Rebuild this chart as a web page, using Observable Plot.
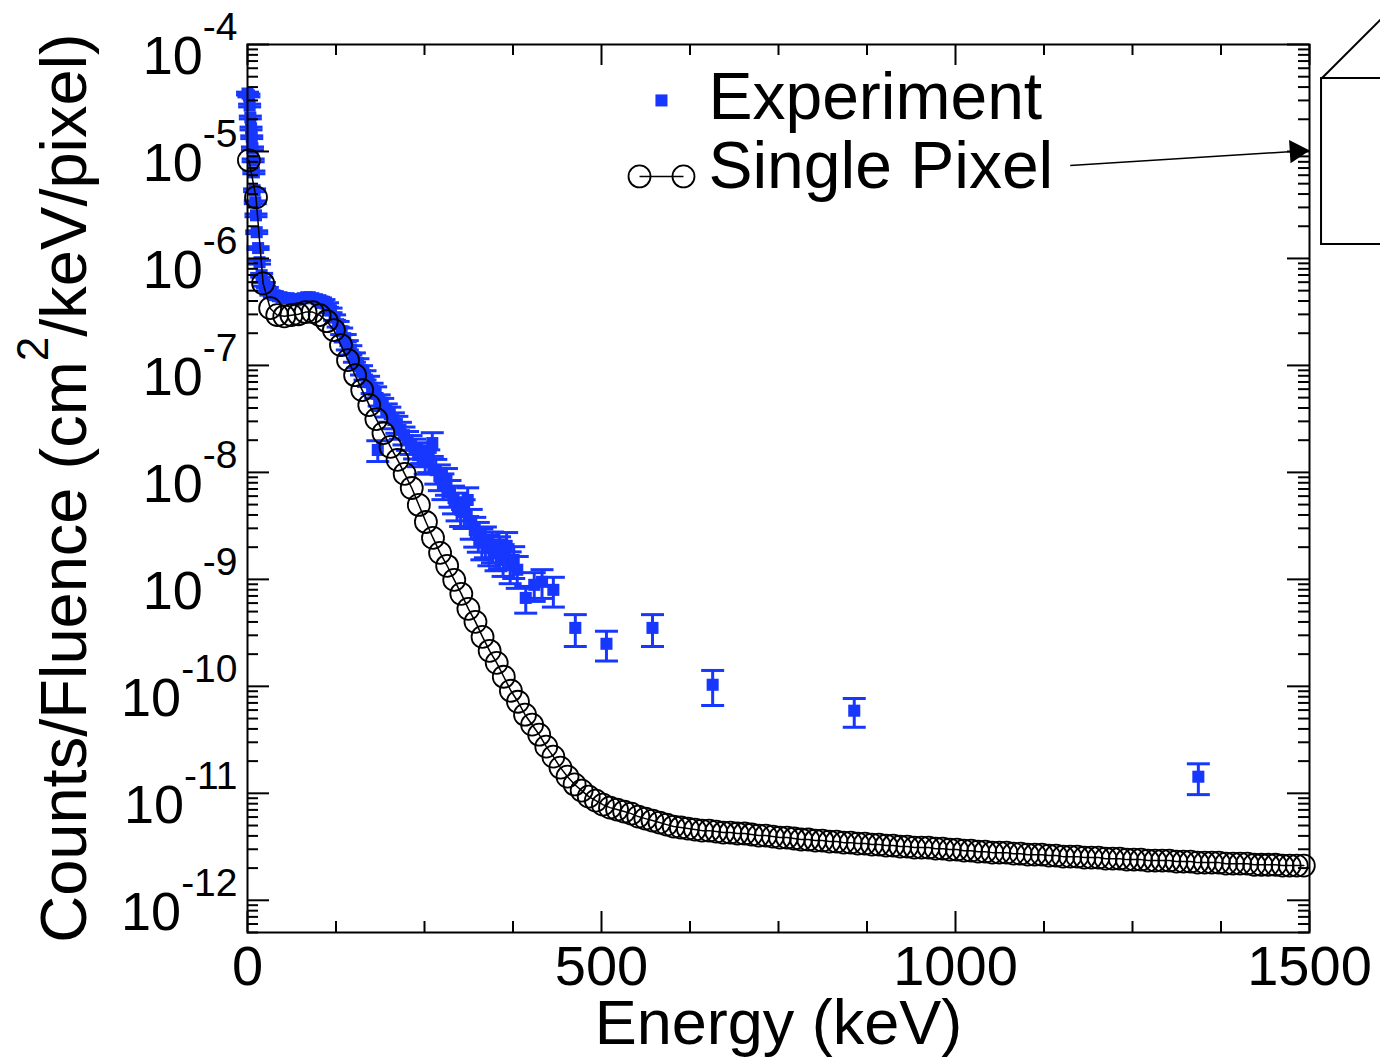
<!DOCTYPE html>
<html>
<head>
<meta charset="utf-8">
<script src="https://cdn.jsdelivr.net/npm/d3@7"></script>
<script src="https://cdn.jsdelivr.net/npm/@observablehq/plot@0.6"></script>
<style>
  html, body { margin: 0; padding: 0; background: #fff; }
  #chart svg { display: block; }
</style>
</head>
<body>
<div id="chart"></div>
<script>
// ---------------- DATA ----------------
// Single Pixel (simulation), energy in keV
const spEnergy = [2,12,22,32,42,52,62,72,82,92,102,112,122,132,142,152,162,172,182,192,202,212,222,232,242,252,262,272,282,292,302,312,322,332,342,352,362,372,382,392,402,412,422,432,442,452,462,472,482,492,502,512,522,532,542,552,562,572,582,592,602,612,622,632,642,652,662,672,682,692,702,712,722,732,742,752,762,772,782,792,802,812,822,832,842,852,862,872,882,892,902,912,922,932,942,952,962,972,982,992,1002,1012,1022,1032,1042,1052,1062,1072,1082,1092,1102,1112,1122,1132,1142,1152,1162,1172,1182,1192,1202,1212,1222,1232,1242,1252,1262,1272,1282,1292,1302,1312,1322,1332,1342,1352,1362,1372,1382,1392,1402,1412,1422,1432,1442,1452,1462,1472,1482,1492];
const spCounts = [8.26e-6,3.72e-6,5.86e-7,3.43e-7,2.95e-7,2.88e-7,2.95e-7,3.01e-7,3.15e-7,3.15e-7,2.95e-7,2.59e-7,2.14e-7,1.55e-7,1.12e-7,8.1e-8,5.88e-8,4.26e-8,3.15e-8,2.33e-8,1.73e-8,1.31e-8,9.67e-9,7.15e-9,4.96e-9,3.44e-9,2.44e-9,1.77e-9,1.34e-9,9.89e-10,7.32e-10,5.30e-10,4.01e-10,2.90e-10,2.15e-10,1.66e-10,1.23e-10,9.1e-11,7.18e-11,5.43e-11,4.38e-11,3.53e-11,2.73e-11,2.20e-11,1.74e-11,1.43e-11,1.21e-11,1.06e-11,9.31e-12,8.55e-12,7.84e-12,7.35e-12,7.05e-12,6.75e-12,6.46e-12,6.06e-12,5.80e-12,5.56e-12,5.33e-12,5.10e-12,4.89e-12,4.79e-12,4.68e-12,4.58e-12,4.48e-12,4.48e-12,4.39e-12,4.30e-12,4.30e-12,4.21e-12,4.21e-12,4.12e-12,4.03e-12,4.03e-12,3.94e-12,3.86e-12,3.86e-12,3.78e-12,3.70e-12,3.70e-12,3.62e-12,3.62e-12,3.54e-12,3.54e-12,3.46e-12,3.46e-12,3.39e-12,3.39e-12,3.32e-12,3.32e-12,3.25e-12,3.25e-12,3.18e-12,3.18e-12,3.11e-12,3.11e-12,3.11e-12,3.04e-12,3.04e-12,2.98e-12,2.98e-12,2.91e-12,2.91e-12,2.85e-12,2.85e-12,2.79e-12,2.79e-12,2.79e-12,2.73e-12,2.73e-12,2.67e-12,2.67e-12,2.67e-12,2.62e-12,2.62e-12,2.56e-12,2.56e-12,2.56e-12,2.51e-12,2.51e-12,2.51e-12,2.45e-12,2.45e-12,2.45e-12,2.40e-12,2.40e-12,2.40e-12,2.35e-12,2.35e-12,2.35e-12,2.35e-12,2.30e-12,2.30e-12,2.30e-12,2.25e-12,2.25e-12,2.25e-12,2.25e-12,2.20e-12,2.20e-12,2.20e-12,2.20e-12,2.15e-12,2.15e-12,2.15e-12,2.15e-12,2.11e-12,2.11e-12,2.11e-12,2.11e-12];

// Experiment, energy in keV, counts and relative uncertainty
const expEnergy = [0,2,3,4,5,6,7,8,9,10,11,12,13,15,17,20,24,28,33,38,43,48,53,58,63,68,73,78,83,88,93,98,103,108,113,118,123,128,133,138,141,146,151,156,161,166,171,176,181,184,186,191,196,201,206,211,216,221,226,231,236,241,246,251,256,261,266,271,276,281,286,291,296,301,306,311,316,321,326,331,336,341,346,351,356,361,366,371,376,381,393,405,416,432,463,507,572,657,857,1343];
const expCounts = [3.48e-5,3.34e-5,2.69e-5,2.08e-5,1.64e-5,1.36e-5,1.07e-5,8.26e-6,6.38e-6,4.34e-6,3.35e-6,2.53e-6,1.76e-6,1.25e-6,9.22e-7,6.97e-7,5.74e-7,5.15e-7,4.73e-7,4.53e-7,4.43e-7,4.34e-7,4.25e-7,4.25e-7,4.16e-7,4.07e-7,4.16e-7,4.25e-7,4.34e-7,4.34e-7,4.25e-7,4.16e-7,4.07e-7,3.93e-7,3.67e-7,3.27e-7,2.80e-7,2.43e-7,2.09e-7,1.80e-7,1.55e-7,1.39e-7,1.19e-7,1.05e-7,9.04e-8,8.11e-8,7.13e-8,6.14e-8,5.63e-8,1.62e-8,4.74e-8,4.35e-8,3.83e-8,3.51e-8,3.08e-8,2.83e-8,2.49e-8,2.23e-8,2.01e-8,1.84e-8,1.69e-8,1.45e-8,1.55e-8,1.25e-8,1.31e-8,1.88e-8,1.05e-8,9.25e-9,7.62e-9,8.49e-9,6.56e-9,5.77e-9,4.96e-9,4.46e-9,4.27e-9,5.52e-9,3.44e-9,2.90e-9,2.60e-9,2.24e-9,2.34e-9,1.97e-9,2.10e-9,1.77e-9,1.88e-9,1.59e-9,2.06e-9,1.36e-9,1.52e-9,1.23e-9,6.71e-10,8.89e-10,9.48e-10,7.98e-10,3.52e-10,2.50e-10,3.52e-10,1.035e-10,5.92e-11,1.43e-11];
const expRelErr = [0.03,0.03,0.03,0.03,0.03,0.03,0.03,0.03,0.03,0.03,0.03,0.03,0.03,0.03,0.04,0.04,0.04,0.04,0.04,0.04,0.04,0.04,0.04,0.04,0.04,0.04,0.04,0.04,0.04,0.04,0.04,0.05,0.05,0.05,0.05,0.05,0.06,0.06,0.07,0.08,0.1,0.1,0.1,0.1,0.1,0.1,0.11,0.11,0.12,0.22,0.12,0.13,0.14,0.16,0.17,0.18,0.18,0.19,0.2,0.2,0.21,0.22,0.22,0.23,0.24,0.25,0.26,0.27,0.27,0.28,0.28,0.29,0.29,0.3,0.3,0.3,0.31,0.31,0.31,0.32,0.32,0.32,0.32,0.32,0.33,0.33,0.33,0.33,0.33,0.33,0.28,0.3,0.3,0.31,0.33,0.31,0.33,0.36,0.3,0.32];

const seriesNames = ["Experiment", "Single Pixel"];
const xTickValues = [0, 500, 1000, 1500];
const xTickLabels = ["0", "500", "1000", "1500"];
const xMinorTicks = [125, 250, 375, 625, 750, 875, 1125, 1250, 1375];
const yTickValues = [1e-12, 1e-11, 1e-10, 1e-9, 1e-8, 1e-7, 1e-6, 1e-5, 1e-4];
const yTickExponents = ["-12", "-11", "-10", "-9", "-8", "-7", "-6", "-5", "-4"];
const xTitle = "Energy (keV)";
const yTitleParts = ["Counts/Fluence (cm", "2", "/keV/pixel)"];

// ---------------- BUILD ----------------
const blue = "#1737ff";
const W = 1380, H = 1063;
const mL = 247, mR = 71, mT = 44, mB = 131;
const plotW = W - mL - mR, plotH = H - mT - mB;
const yDomain = [5e-13, 1e-4];

const sp = spEnergy.map((e, i) => ({E: e, v: spCounts[i]})).filter(d => d.v != null);
const ex = expEnergy.map((e, i) => ({
  E: e, v: expCounts[i],
  lo: expCounts[i] * (1 - expRelErr[i]),
  hi: expCounts[i] * (1 + expRelErr[i])
}));

const yMinorTicks = d3.scaleLog().domain(yDomain).ticks()
  .filter(t => Math.abs(Math.log10(t) - Math.round(Math.log10(t))) > 1e-6);

const capSymbol = {draw(ctx) { ctx.moveTo(-11.5, 0); ctx.lineTo(11.5, 0); }};

// annotation / legend anchors (data coordinates)
const legend = {
  squareE: 584.7, squareV: 3.0e-5,
  textE: 651, expTextV: 2.03e-5, spTextV: 4.51e-6,
  circleE1: 553.7, circleE2: 615.8, circleV: 5.84e-6
};
const arrow = {E1: 1162, V1: 7.40e-6, E2: 1481.6, V2: 1.005e-5};
const box = {E1: 1517, E2: 1800, V1: 1.35e-6, V2: 4.81e-5, diagE: 1620, diagV: 2.31e-4};

const font = "'Liberation Sans', Arial, Helvetica, sans-serif";

const chart = Plot.plot({
  width: W, height: H,
  marginLeft: mL, marginRight: mR, marginTop: mT, marginBottom: mB,
  style: {fontFamily: font, background: "white", color: "black", overflow: "visible"},
  x: {domain: [0, 1500], axis: null},
  y: {type: "log", domain: yDomain, axis: null},
  marks: [
    // experiment error bars
    Plot.ruleX(ex, {x: "E", y1: "lo", y2: "hi", stroke: blue, strokeWidth: 3}),
    Plot.dot(ex, {x: "E", y: "lo", symbol: capSymbol, stroke: blue, fill: "none", strokeWidth: 3}),
    Plot.dot(ex, {x: "E", y: "hi", symbol: capSymbol, stroke: blue, fill: "none", strokeWidth: 3}),
    Plot.dot(ex, {x: "E", y: "v", symbol: "square", r: 6.8, fill: blue, stroke: "none"}),
    // single pixel
    Plot.line(sp, {x: "E", y: "v", stroke: "black", strokeWidth: 1.5}),
    Plot.dot(sp, {x: "E", y: "v", r: 11, stroke: "black", strokeWidth: 1.8, fill: "none"}),
    // frame & inward ticks
    Plot.frame({stroke: "black", strokeWidth: 2}),
    Plot.tickX(xTickValues, {x: d => d, insetTop: plotH - 21, stroke: "black", strokeWidth: 2}),
    Plot.tickX(xTickValues, {x: d => d, insetBottom: plotH - 21, stroke: "black", strokeWidth: 2}),
    Plot.tickX(xMinorTicks, {x: d => d, insetTop: plotH - 11, stroke: "black", strokeWidth: 2}),
    Plot.tickX(xMinorTicks, {x: d => d, insetBottom: plotH - 11, stroke: "black", strokeWidth: 2}),
    Plot.tickY(yTickValues, {y: d => d, insetRight: plotW - 22, stroke: "black", strokeWidth: 2}),
    Plot.tickY(yTickValues, {y: d => d, insetLeft: plotW - 22, stroke: "black", strokeWidth: 2}),
    Plot.tickY(yMinorTicks, {y: d => d, insetRight: plotW - 11, stroke: "black", strokeWidth: 2}),
    Plot.tickY(yMinorTicks, {y: d => d, insetLeft: plotW - 11, stroke: "black", strokeWidth: 2}),
    // tick labels
    Plot.text(xTickValues, {x: d => d, text: (d, i) => xTickLabels[i], frameAnchor: "bottom",
      lineAnchor: "top", dy: 13, fontSize: 56, fill: "black"}),
    Plot.text(yTickValues, {y: d => d, text: (d, i) => "10^" + yTickExponents[i], frameAnchor: "left",
      textAnchor: "end", dx: -10, dy: 12, fontSize: 54, fill: "black"}),
    // x title
    Plot.text([xTitle], {text: d => d, frameAnchor: "bottom", lineAnchor: "bottom", dy: 111,
      fontSize: 63, fill: "black"}),
    // legend
    Plot.dot([legend], {x: "squareE", y: "squareV", symbol: "square", r: 6.8, fill: blue, stroke: "none"}),
    Plot.text([legend], {x: "textE", y: "expTextV", text: () => seriesNames[0], textAnchor: "start",
      lineAnchor: "bottom", fontSize: 66, fill: "black"}),
    Plot.link([legend], {x1: "circleE1", x2: "circleE2", y1: "circleV", y2: "circleV", stroke: "black", strokeWidth: 1.5}),
    Plot.dot([legend], {x: "circleE1", y: "circleV", r: 11, stroke: "black", strokeWidth: 1.8, fill: "none"}),
    Plot.dot([legend], {x: "circleE2", y: "circleV", r: 11, stroke: "black", strokeWidth: 1.8, fill: "none"}),
    Plot.text([legend], {x: "textE", y: "spTextV", text: () => seriesNames[1], textAnchor: "start",
      lineAnchor: "bottom", fontSize: 66, fill: "black"}),
    // arrow pointing to the box
    Plot.link([arrow], {x1: "E1", y1: "V1", x2: "E2", y2: "V2", stroke: "black", strokeWidth: 1.5}),
    Plot.dot([arrow], {x: "E2", y: "V2", symbol: "triangle", r: 8.6, rotate: 86.4, fill: "black", stroke: "none"}),
    // inset box outline (cut off at right)
    Plot.rect([box], {x1: "E1", x2: "E2", y1: "V1", y2: "V2", fill: "white", stroke: "black", strokeWidth: 2}),
    Plot.link([box], {x1: "E1", y1: "V2", x2: "diagE", y2: "diagV", stroke: "black", strokeWidth: 2})
  ]
});

document.getElementById("chart").appendChild(chart);

// superscripts for y tick labels
const svg = d3.select(chart);
svg.selectAll("text").each(function() {
  const t = d3.select(this);
  const s = t.text();
  if (!s.startsWith("10^")) return;
  const [base, ex] = s.split("^");
  t.text(null);
  t.append("tspan").text(base);
  t.append("tspan").attr("dy", -34).attr("font-size", 39).text(ex);
});

// y title with superscript
const yt = svg.append("text")
  .attr("transform", `translate(86, ${mT + plotH / 2}) rotate(-90)`)
  .attr("text-anchor", "middle")
  .attr("font-family", font)
  .attr("font-size", 65)
  .attr("fill", "black");
yt.append("tspan").text(yTitleParts[0]);
yt.append("tspan").attr("dy", -38).attr("font-size", 44).text(yTitleParts[1]);
yt.append("tspan").attr("dy", 38).text(yTitleParts[2]);
</script>
</body>
</html>
